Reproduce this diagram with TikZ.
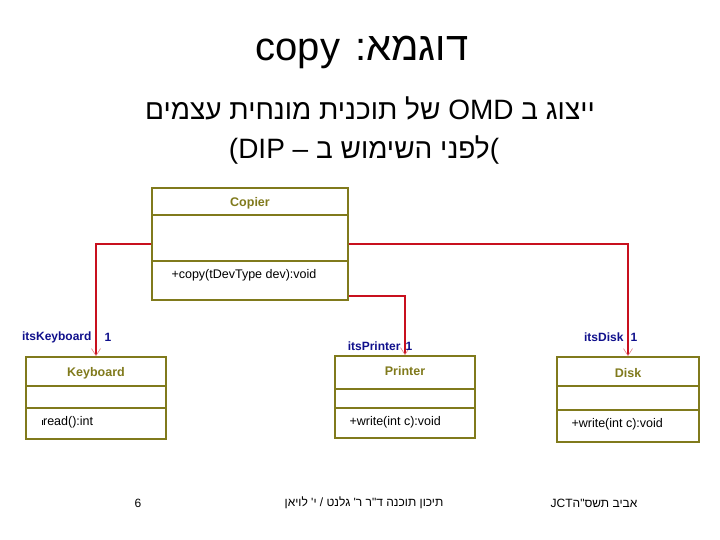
\documentclass[tikz,border=0pt]{standalone}
\usepackage{fontspec}
\setmainfont{Liberation Sans}
\newfontfamily\hebfont[Script=Hebrew]{Liberation Sans}
\TeXXeTstate=1
\usetikzlibrary{arrows.meta,calc}
\definecolor{umlolive}{RGB}{128,122,28}
\definecolor{assocred}{RGB}{200,16,30}
\definecolor{rolenavy}{RGB}{16,16,140}

\begin{document}
\begin{tikzpicture}[x=1pt,y=-1pt,
    cls/.style={draw=umlolive,line width=1.7pt,inner sep=0pt},
    divider/.style={draw=umlolive,line width=1.7pt},
    clsname/.style={font=\fontsize{12.5}{14}\selectfont\bfseries,text=umlolive},
    op/.style={font=\fontsize{12.5}{14}\selectfont,anchor=west},
    role/.style={font=\fontsize{12}{14}\selectfont\bfseries,text=rolenavy},
    assoc/.style={draw=assocred,line width=1.6pt,-{Straight Barb[length=7pt,width=9pt,line width=0.6pt,color=assocred!55]}},
    foot/.style={font=\fontsize{12}{14}\selectfont}]
  \useasboundingbox[fill=white] (0,0) rectangle (720,540);
  \node (title) at (362,52) {\fontsize{40}{46}\selectfont\hebfont\beginR דוגמא: copy\endR};
  \node (sub1) at (370,108) {\fontsize{28}{32}\selectfont\hebfont\beginR ייצוג ב \beginL OMD\endL{}  של תוכנית מונחית עצמים\endR};
  \node (sub2) at (364,150) {\fontsize{28}{32}\selectfont\hebfont(DIP – \beginR לפני השימוש ב\endR)};

  \node[cls,minimum width=196pt,minimum height=112pt] (copier) at (250,244) {};
  \draw[divider] (copier.west |- 0,215) -- (copier.east |- 0,215);
  \draw[divider] (copier.west |- 0,261) -- (copier.east |- 0,261);
  \node[clsname] (copiername) at (250,203) {Copier};
  \node[op] (copierop) at (168,275) {+copy(tDevType dev):void};

  \node[cls,minimum width=140pt,minimum height=82pt] (keyboard) at (96,398) {};
  \draw[divider] (keyboard.west |- 0,386) -- (keyboard.east |- 0,386);
  \draw[divider] (keyboard.west |- 0,408) -- (keyboard.east |- 0,408);
  \node[clsname] (keyboardname) at (96,373) {Keyboard};
  \node[op] (keyboardop) at (38,422) {\rule{0.6pt}{5pt}\kern1pt read():int};

  \node[cls,minimum width=140pt,minimum height=82pt] (printer) at (405,397) {};
  \draw[divider] (printer.west |- 0,389) -- (printer.east |- 0,389);
  \draw[divider] (printer.west |- 0,408) -- (printer.east |- 0,408);
  \node[clsname] (printername) at (405,371) {Printer};
  \node[op] (printerop) at (346,422) {+write(int c):void};

  \node[cls,minimum width=142pt,minimum height=85pt] (disk) at (628,399.5) {};
  \draw[divider] (disk.west |- 0,386) -- (disk.east |- 0,386);
  \draw[divider] (disk.west |- 0,410) -- (disk.east |- 0,410);
  \node[clsname] (diskname) at (628,373) {Disk};
  \node[op] (diskop) at (568,424) {+write(int c):void};

  \draw[assoc] (copier.west) -| (keyboard.north);
  \draw[assoc] (copier.east) -| (disk.north);
  \draw[assoc] ([yshift=-52pt]copier.east) -| (printer.north);

  \node[role,anchor=east] (kbrole) at (95,337) {itsKeyboard};
  \node[role] (kbmult) at (108,337) {1};
  \node[role,anchor=east] (prrole) at (404,346) {itsPrinter};
  \node[role] (prmult) at (409,346) {1};
  \node[role,anchor=east] (dkrole) at (627,337) {itsDisk};
  \node[role] (dkmult) at (634,337) {1};

  \node[foot] (page) at (138,503) {6};
  \node[foot] (authors) at (364,503) {\hebfont\beginR תיכון תוכנה ד"ר ר' גלנט / י' לויאן\endR};
  \node[foot] (term) at (594,503) {\hebfont\beginR אביב תשס"ה\beginL JCT\endL\endR};
\end{tikzpicture}
\end{document}
